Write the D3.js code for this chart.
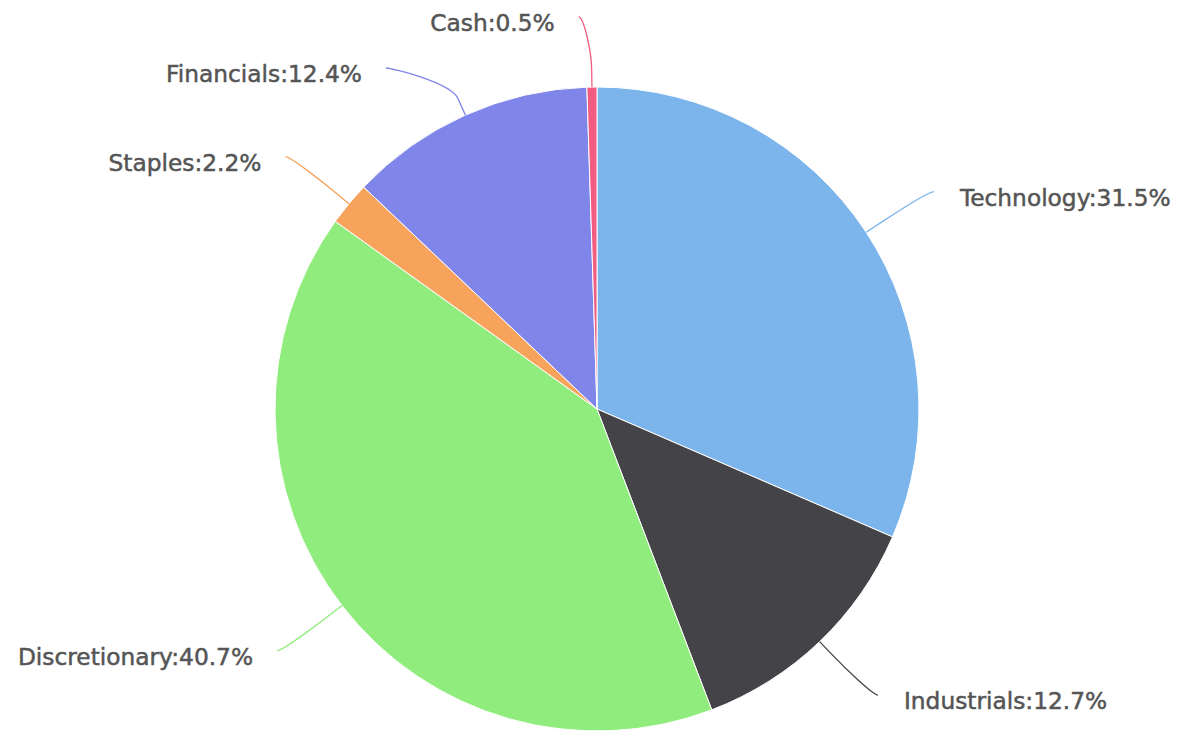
<!DOCTYPE html>
<html>
<head>
<meta charset="utf-8">
<script src="https://cdn.jsdelivr.net/npm/d3@7"></script>
<style>
  html, body { margin: 0; padding: 0; background: #fff; }
  svg { display: block; }
</style>
</head>
<body>
<svg id="chart"></svg>
<script>
// sector weights (clockwise from 12 o'clock)
const sectors = ["Technology", "Industrials", "Discretionary", "Staples", "Financials", "Cash"];
const weights = [31.5, 12.7, 40.7, 2.2, 12.4, 0.5];
const sliceColors = ["#7cb5ec", "#434348", "#90ed7d", "#f7a35c", "#8085e9", "#f15c80"];

class PieChart {
    constructor(names, values, colors) {
        this.names = names
        this.values = values
        this.colors = colors
        this.width = 1182
        this.height = 731
        this.drawChart()
    }

    drawChart() {
        this.setup()
        this.updateChart()
    }

    setup() {
        this.cx = 597
        this.cy = 409
        this.radius = 322
        this.labelRadius = 396   // vertical placement of connector ends
        this.labelRadiusX = 401  // horizontal placement of connector ends
        this.breakRadius = 340   // where connector leaves the radial direction
        this.labelGap = 51       // min vertical distance between labels on one side
        this.labelTop = 17 - this.cy

        this.data = this.names.map((n, i) => ({name: n, value: this.values[i]}))
        this.pie = d3.pie().sort(null).value(d => d.value)
        this.arc = d3.arc().innerRadius(0).outerRadius(this.radius)
        this.color = d3.scaleOrdinal(this.names, this.colors)
    }

    // point at radius r along the middle of a slice
    polar(d, r) {
        const a = (d.startAngle + d.endAngle) / 2
        return [Math.sin(a) * r, -Math.cos(a) * r]
    }

    // place labels on each side, push them apart when they crowd
    layoutLabels(arcs) {
        const R = this.labelRadius, RX = this.labelRadiusX
        arcs.forEach(d => {
            const p = this.polar(d, R)
            d.right = p[0] >= 0
            d.natY = p[1]
            d.ly = p[1]
        })
        for (const side of [true, false]) {
            const list = arcs.filter(d => d.right === side).sort((a, b) => a.natY - b.natY)
            let prev = -Infinity
            list.forEach(d => {
                let y = Math.max(d.natY, this.labelTop, prev + this.labelGap)
                d.ly = y
                prev = y
            })
        }
        arcs.forEach(d => {
            if (d.ly !== this.labelTop && Math.abs(d.ly) < RX) {
                const dx = Math.sqrt(RX * RX - d.ly * d.ly)
                d.lx = d.right ? dx : -dx
            } else {
                // clamped at the top: nudge a bit off the slice
                d.lx = this.polar(d, RX)[0] + (d.right ? 12 : -12)
            }
        })
    }

    updateChart() {
        const svg = d3.select("#chart")
            .attr("width", this.width)
            .attr("height", this.height)
        const g = svg.append("g").attr("transform", `translate(${this.cx},${this.cy})`)
        const arcs = this.pie(this.data)
        this.layoutLabels(arcs)

        g.append("g")
            .selectAll("path")
            .data(arcs)
            .join("path")
            .attr("fill", d => this.color(d.data.name))
            .attr("stroke", "#fff")
            .attr("stroke-width", 1)
            .attr("stroke-linejoin", "round")
            .attr("d", this.arc)

        // soft connectors, highcharts-ish
        g.append("g")
            .selectAll("path")
            .data(arcs)
            .join("path")
            .attr("fill", "none")
            .attr("stroke", d => this.color(d.data.name))
            .attr("stroke-width", 1.3)
            .attr("d", d => {
                const touch = this.polar(d, this.radius)
                const brk = this.polar(d, this.breakRadius)
                const p = d3.path()
                p.moveTo(d.lx, d.ly)
                p.bezierCurveTo(d.lx + (d.right ? -5 : 5), d.ly,
                    2 * brk[0] - touch[0], 2 * brk[1] - touch[1],
                    brk[0], brk[1])
                p.lineTo(touch[0], touch[1])
                return p.toString()
            })

        g.append("g")
            .attr("font-family", "'DejaVu Sans', Verdana, sans-serif")
            .attr("font-size", 23.3)
            .attr("fill", "#555")
            .attr("stroke", "#555")
            .attr("stroke-width", 0.5)
            .selectAll("text")
            .data(arcs)
            .join("text")
            .attr("x", d => d.right ? d.lx + 26 : d.lx - 24)
            .attr("y", d => d.ly + 6)
            .attr("dy", "0.35em")
            .attr("text-anchor", d => d.right ? "start" : "end")
            .text(d => `${d.data.name}:${d.data.value}%`)
    }
}

new PieChart(sectors, weights, sliceColors)
</script>
</body>
</html>
